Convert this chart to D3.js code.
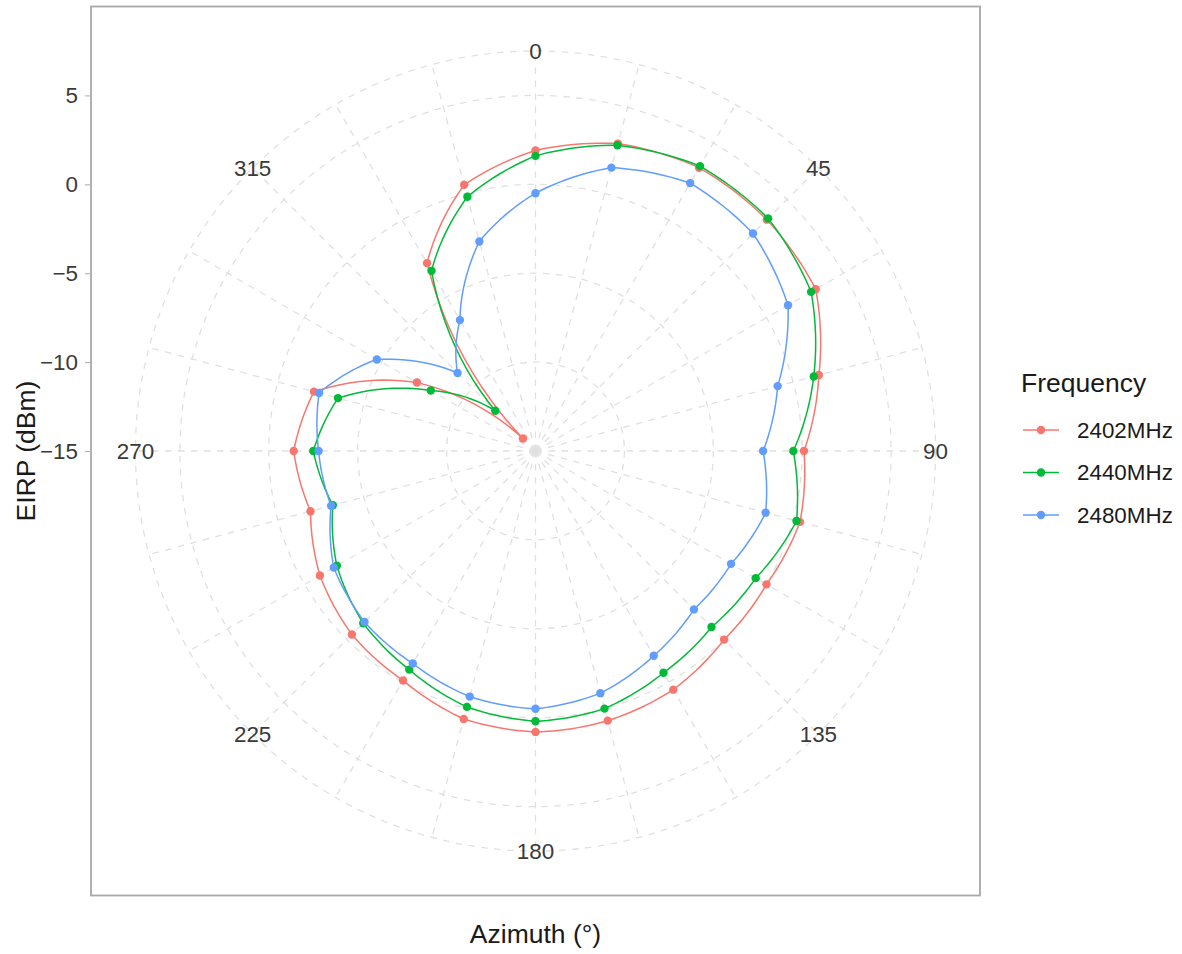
<!DOCTYPE html>
<html>
<head>
<meta charset="utf-8">
<script src="https://cdn.jsdelivr.net/npm/d3@7"></script>
<style>
  body { margin: 0; background: #ffffff; }
  text { font-family: "Liberation Sans", Arial, sans-serif; }
</style>
</head>
<body>
<script>

// azimuth of every measurement (degrees, clockwise from north)
var azimuth = [0, 15, 30, 45, 60, 75, 90, 105, 120, 135, 150, 165,
               180, 195, 210, 225, 240, 255, 270, 285, 300, 315, 330, 345];

// EIRP (dBm) per azimuth, one list per frequency
var eirp2402 = [1.9, 2.9, 3.4, 3.4, 3.2, 1.5, 0.1, 0.4, 0.0, 0.0, 0.5, 0.7,
                0.8, 0.6, -0.1, -0.4, -1.0, -1.9, -1.4, -2.1, -7.3, -14.0, -2.8, 0.5];
var eirp2440 = [1.6, 2.8, 3.5, 3.5, 2.9, 1.2, -0.5, 0.2, -0.7, -1.0, -0.6, 0.0,
                0.2, -0.1, -0.8, -1.3, -2.1, -3.2, -2.5, -3.5, -8.2, -11.8, -3.3, -0.2];
var eirp2480 = [-0.5, 1.5, 2.4, 2.3, 1.4, -0.9, -2.2, -1.6, -2.3, -2.4, -1.7, -0.9,
                -0.5, -0.7, -1.2, -1.4, -1.9, -3.1, -2.8, -2.4, -4.7, -8.8, -6.5, -2.8];

var seriesNames = ["2402MHz", "2440MHz", "2480MHz"];
var seriesColors = ["#F8766D", "#00BA38", "#619CFF"];

// tick labels
var rTicks = [-15, -10, -5, 0, 5];
var thetaLabels = [0, 45, 90, 135, 180, 225, 270, 315];


window.onload = function() {

  var chartPad = {
    w: 1182,
    h: 954,
    left: 91,
    top: 6.5,
    size: 889
  };

  var series = [eirp2402, eirp2440, eirp2480].map(function(values, i) {
    return { name: seriesNames[i], color: seriesColors[i], values: values };
  });

  drawPolar(series, chartPad);
  drawLegend(series);
};


function drawPolar(series, chartPad) {

  var svg = d3.select("body")
            .append("svg")
              .attr("id", "chart")
              .attr("width", chartPad.w)
              .attr("height", chartPad.h);

  var cx = chartPad.left + chartPad.size / 2;
  var cy = chartPad.top + chartPad.size / 2;
  var outerR = 0.45 * chartPad.size;

  // radius and angle scales (ggplot coord_polar: data radius ends at 0.4)
  var rScale = d3.scaleLinear()
                 .domain([-15, 5])
                 .range([0, 0.4 * chartPad.size]);

  var aScale = d3.scaleLinear()
                 .domain([0, 360])
                 .range([0, 2 * Math.PI]);

  var g = svg.append("g")
             .attr("transform", "translate(" + cx + "," + cy + ")");

  // dashed grid: circles for each r tick plus the outer ring
  var rings = rTicks.map(function(t) { return rScale(t); }).concat([outerR]);

  g.selectAll(".ring")
    .data(rings)
    .enter()
  .append("circle")
    .attr("class", "ring")
    .attr("r", function(d) { return d; })
    .attr("fill", "none")
    .attr("stroke", "#e0e0e0")
    .attr("stroke-width", 1.3)
    .attr("stroke-dasharray", "6.5,6.5");

  // spokes every 15 degrees
  g.selectAll(".spoke")
    .data(azimuth)
    .enter()
  .append("line")
    .attr("class", "spoke")
    .attr("x1", 0)
    .attr("y1", 0)
    .attr("x2", function(d) { return d3.pointRadial(aScale(d), outerR)[0]; })
    .attr("y2", function(d) { return d3.pointRadial(aScale(d), outerR)[1]; })
    .attr("stroke", "#e0e0e0")
    .attr("stroke-width", 1.3)
    .attr("stroke-dasharray", "6.5,6.5");

  // angle labels sit on the outer ring
  g.selectAll(".theta-label")
    .data(thetaLabels)
    .enter()
  .append("text")
    .attr("class", "theta-label")
    .attr("x", function(d) { return d3.pointRadial(aScale(d), outerR)[0]; })
    .attr("y", function(d) { return d3.pointRadial(aScale(d), outerR)[1]; })
    .attr("dy", "0.35em")
    .attr("text-anchor", "middle")
    .attr("font-size", 22.4)
    .attr("fill", "#3a3a3a")
    .text(function(d) { return d; });

  // straight segments in data space become spirals in polar coords,
  // so each segment is drawn in small steps (like ggplot's munching)
  var line = d3.lineRadial()
               .angle(function(d) { return aScale(d[0]); })
               .radius(function(d) { return rScale(d[1]); });

  function spiralPath(values) {
    var pts = [];
    var steps = 12;
    for (var i = 0; i < azimuth.length; i++) {
      var j = (i + 1) % azimuth.length;
      var a0 = azimuth[i];
      var a1 = j === 0 ? 360 : azimuth[j];
      for (var k = 0; k < steps; k++) {
        var t = k / steps;
        pts.push([a0 + t * (a1 - a0), values[i] + t * (values[j] - values[i])]);
      }
    }
    pts.push([360, values[0]]);
    return line(pts);
  }

  g.selectAll(".series-line")
    .data(series)
    .enter()
  .append("path")
    .attr("class", "series-line")
    .attr("d", function(d) { return spiralPath(d.values); })
    .attr("fill", "none")
    .attr("stroke", function(d) { return d.color; })
    .attr("stroke-width", 1.5);

  series.forEach(function(s) {
    g.selectAll(null)
      .data(s.values)
      .enter()
    .append("circle")
      .attr("cx", function(d, i) { return d3.pointRadial(aScale(azimuth[i]), rScale(d))[0]; })
      .attr("cy", function(d, i) { return d3.pointRadial(aScale(azimuth[i]), rScale(d))[1]; })
      .attr("r", 4.2)
      .attr("fill", s.color);
  });

  // panel border
  svg.append("rect")
    .attr("x", chartPad.left)
    .attr("y", chartPad.top)
    .attr("width", chartPad.size)
    .attr("height", chartPad.size)
    .attr("fill", "none")
    .attr("stroke", "#a8a8a8")
    .attr("stroke-width", 1.8);

  // r axis on the left, running from the centre up
  var yScale = d3.scaleLinear()
                 .domain([-15, 5])
                 .range([cy, cy - 0.4 * chartPad.size]);

  var yAxis = d3.axisLeft(yScale)
                .tickValues(rTicks)
                .tickSize(6)
                .tickPadding(7);

  var ax = svg.append("g")
              .attr("transform", "translate(" + chartPad.left + ",0)")
              .call(yAxis);

  ax.select(".domain").remove();
  ax.selectAll(".tick line").attr("stroke", "#b3b3b3").attr("stroke-width", 1.1);
  ax.selectAll(".tick text")
    .attr("font-size", 22.4)
    .attr("font-family", "Liberation Sans, Arial, sans-serif")
    .attr("fill", "#3a3a3a");

  // axis titles
  svg.append("text")
    .attr("transform", "translate(35," + cy + ") rotate(-90)")
    .attr("text-anchor", "middle")
    .attr("font-size", 26.5)
    .attr("fill", "#1a1a1a")
    .text("EIRP (dBm)");

  svg.append("text")
    .attr("x", cx)
    .attr("y", 943)
    .attr("text-anchor", "middle")
    .attr("font-size", 26.5)
    .attr("fill", "#1a1a1a")
    .text("Azimuth (°)");
}


function drawLegend(series) {

  var svg = d3.select("#chart");

  var legend = svg.append("g")
                  .attr("transform", "translate(1021,0)");

  legend.append("text")
    .attr("x", 0)
    .attr("y", 392)
    .attr("font-size", 26.5)
    .attr("fill", "#1a1a1a")
    .text("Frequency");

  var rowY = d3.scalePoint()
               .domain(seriesNames)
               .range([430, 515]);

  var rows = legend.selectAll(".legend-row")
                   .data(series)
                   .enter()
                 .append("g")
                   .attr("class", "legend-row")
                   .attr("transform", function(d) { return "translate(0," + rowY(d.name) + ")"; });

  rows.append("line")
    .attr("x1", 2)
    .attr("x2", 38)
    .attr("stroke", function(d) { return d.color; })
    .attr("stroke-width", 1.5);

  rows.append("circle")
    .attr("cx", 20)
    .attr("r", 4.2)
    .attr("fill", function(d) { return d.color; });

  rows.append("text")
    .attr("x", 56)
    .attr("dy", "0.35em")
    .attr("font-size", 22.4)
    .attr("fill", "#1a1a1a")
    .text(function(d) { return d.name; });
}

</script>
</body>
</html>
